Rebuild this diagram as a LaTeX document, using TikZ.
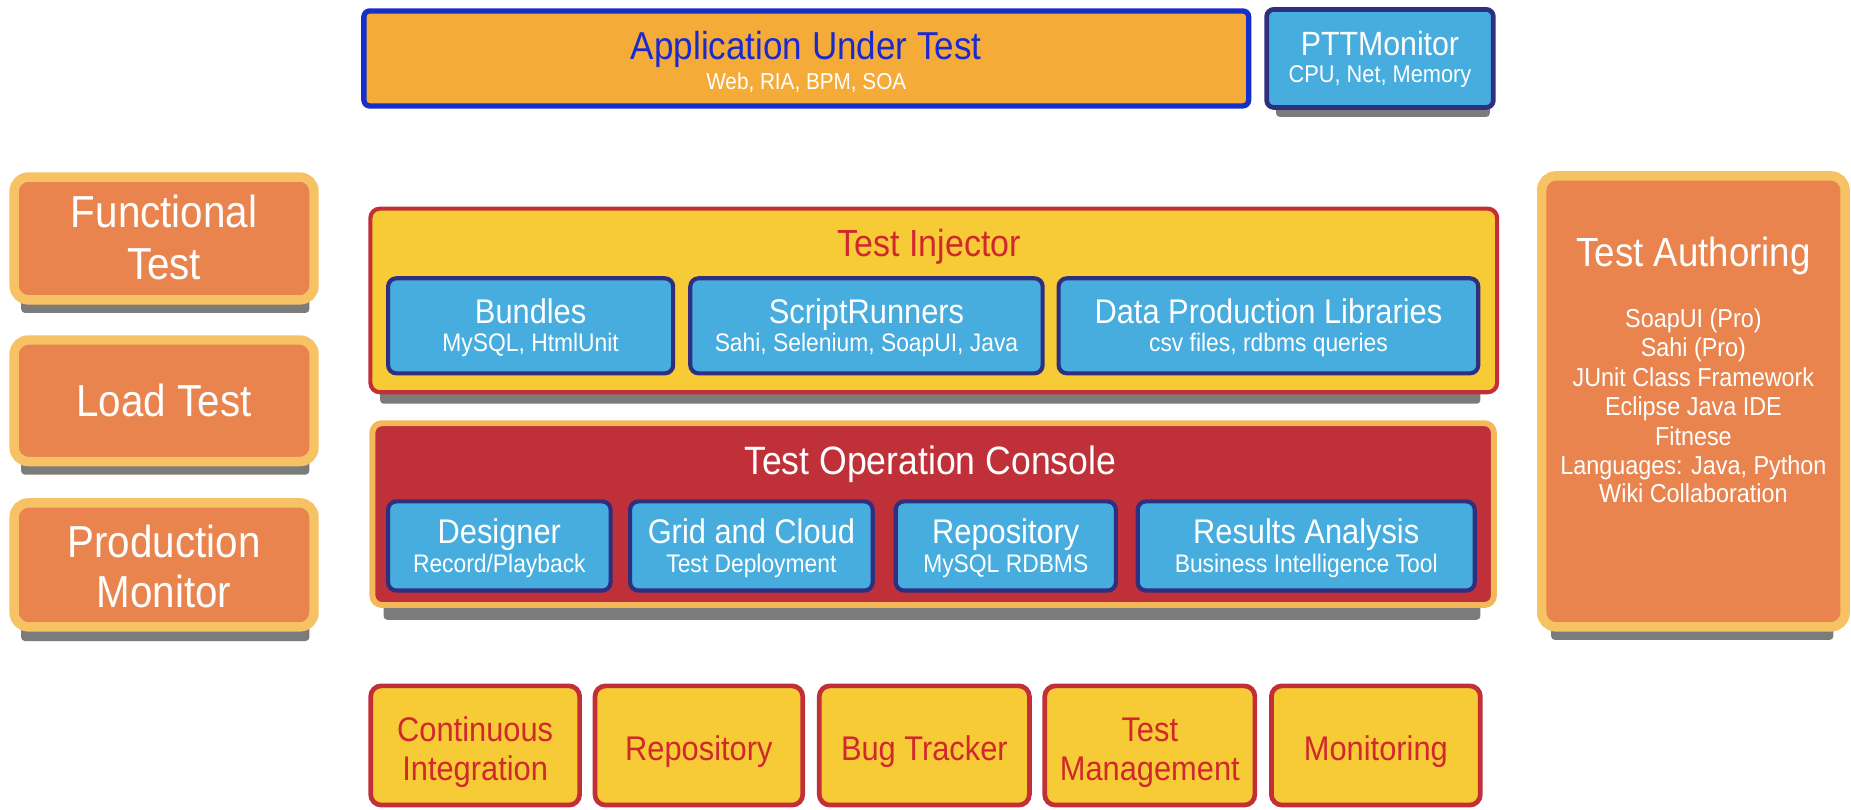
\documentclass[tikz,border=0pt]{standalone}
\usepackage{fontspec}
\setmainfont{Liberation Sans}[FakeStretch=0.9]
\definecolor{cApp}{HTML}{F5AB38}
\definecolor{cAppB}{HTML}{1530C8}
\definecolor{cBlue}{HTML}{46ADDE}
\definecolor{cNavy}{HTML}{2F2F80}
\definecolor{cOr}{HTML}{E9844F}
\definecolor{cOrB}{HTML}{F7C263}
\definecolor{cYel}{HTML}{F7CB36}
\definecolor{cRed}{HTML}{C22F37}
\definecolor{cCon}{HTML}{BF3038}
\definecolor{cConB}{HTML}{F3B85A}
\definecolor{cRedT}{HTML}{D0282C}
\definecolor{cBlueT}{HTML}{1A2ACF}
\definecolor{cShadow}{HTML}{7B7B7B}
\newcommand\fsz[1]{\fontsize{#1}{#1}\selectfont}
% style, name, x1, x2, y1, y2, line width
\newcommand\bx[7]{\node[#1, minimum width={#4-#3-#7}, minimum height={#6-#5-#7}, line width=#7pt] (#2) at ({(#3+#4)/2},{(#5+#6)/2}) {};}
\tikzset{
  every node/.style={inner sep=0pt, outer sep=0pt},
  appbox/.style={draw=cAppB, fill=cApp, rounded corners=5pt},
  pttbox/.style={draw=cNavy, fill=cBlue, rounded corners=6pt},
  sidebox/.style={draw=cOrB, fill=cOr, rounded corners=12pt},
  injbox/.style={draw=cRed, fill=cYel, rounded corners=8pt},
  conbox/.style={draw=cConB, fill=cCon, rounded corners=8pt},
  bluebox/.style={draw=cNavy, fill=cBlue, rounded corners=7pt},
  toolbox/.style={draw=cRed, fill=cYel, rounded corners=9pt},
  shadow/.style={fill=cShadow, rounded corners=3pt},
  wt/.style={text=white, anchor=base},
  rt/.style={text=cRedT, anchor=base},
  big/.style={font=\fsz{38}},
  ttl/.style={font=\fsz{33.5}},
  mid/.style={font=\fsz{29}},
  sml/.style={font=\fsz{21.5}},
}
\begin{document}
\begin{tikzpicture}[x=1pt, y=-1pt]
\useasboundingbox (0,0) rectangle (1568,686);
% shadows
\fill[shadow] (1081,85) rectangle (1262,99);
\fill[shadow] (18,250) rectangle (262,265);
\fill[shadow] (18,387) rectangle (262,402);
\fill[shadow] (18,527) rectangle (262,543);
\fill[shadow] (322,330) rectangle (1254,342);
\fill[shadow] (325,512) rectangle (1254,525);
\fill[shadow] (1314,528) rectangle (1553,542);
% top row
\bx{appbox}{app}{306}{1060}{7}{92}{4.5}
\bx{pttbox}{ptt}{1071}{1267}{6}{93}{4}
\node[anchor=base, text=cBlueT, font=\fsz{33}] (appT) at (683,50) {Application Under Test};
\node[wt, font=\fsz{19.5}] (appS) at (683,76) {Web, RIA, BPM, SOA};
\node[wt, font=\fsz{28.5}] (pttT) at (1169,47) {PTTMonitor};
\node[wt, font=\fsz{20.5}] (pttS) at (1169,70) {CPU, Net, Memory};
% left column
\bx{sidebox}{fun}{8}{270}{146}{258}{8}
\bx{sidebox}{load}{8}{270}{284}{395}{8}
\bx{sidebox}{prod}{8}{270}{422}{535}{8}
\node[wt, big] (funA) at (139,193) {Functional};
\node[wt, big] (funB) at (139,237) {Test};
\node[wt, big] (loadA) at (139,353) {Load Test};
\node[wt, big] (prodA) at (139,472) {Production};
\node[wt, big] (prodB) at (139,515) {Monitor};
% test injector
\bx{injbox}{inj}{312}{1270}{175}{334}{3.5}
\node[rt, font=\fsz{32}] (injT) at (787,217) {Test Injector};
\bx{bluebox}{bun}{327}{572}{234}{318}{3.5}
\bx{bluebox}{scr}{583}{885}{234}{318}{3.5}
\bx{bluebox}{dpl}{895}{1254}{234}{318}{3.5}
\node[wt, mid] (bunT) at (449.5,274) {Bundles};
\node[wt, sml] (bunS) at (449.5,298) {MySQL, HtmlUnit};
\node[wt, mid] (scrT) at (734,274) {ScriptRunners};
\node[wt, sml] (scrS) at (734,298) {Sahi, Selenium, SoapUI, Java};
\node[wt, mid] (dplT) at (1074.5,274) {Data Production Libraries};
\node[wt, sml] (dplS) at (1074.5,298) {csv files, rdbms queries};
% test operation console
\bx{conbox}{con}{313}{1268}{356}{515}{5}
\node[wt, ttl] (conT) at (788,402) {Test Operation Console};
\bx{bluebox}{des}{327}{519}{423}{502}{3.5}
\bx{bluebox}{grd}{532}{741}{423}{502}{3.5}
\bx{bluebox}{rep}{757}{947}{423}{502}{3.5}
\bx{bluebox}{res}{962}{1251}{423}{502}{3.5}
\node[wt, mid] (desT) at (423,460) {Designer};
\node[wt, sml] (desS) at (423,485) {Record/Playback};
\node[wt, mid] (grdT) at (636.5,460) {Grid and Cloud};
\node[wt, sml] (grdS) at (636.5,485) {Test Deployment};
\node[wt, mid] (repT) at (852,460) {Repository};
\node[wt, sml] (repS) at (852,485) {MySQL RDBMS};
\node[wt, mid] (resT) at (1106.5,460) {Results Analysis};
\node[wt, sml] (resS) at (1106.5,485) {Business Intelligence Tool};
% test authoring
\bx{sidebox}{auth}{1302}{1567}{145}{535}{8}
\node[wt, font=\fsz{34.5}] (authT) at (1434.5,226) {Test Authoring};
\node[wt, font=\fsz{22}] (auth1) at (1434.5,277) {SoapUI (Pro)};
\node[wt, font=\fsz{22}] (auth2) at (1434.5,302) {Sahi (Pro)};
\node[wt, font=\fsz{22}] (auth3) at (1434.5,327) {JUnit Class Framework};
\node[wt, font=\fsz{22}] (auth4) at (1434.5,352) {Eclipse Java IDE};
\node[wt, font=\fsz{22}] (auth5) at (1434.5,377) {Fitnese};
\node[wt, font=\fsz{22}] (auth6) at (1434.5,402) {Languages: Java, Python};
\node[wt, font=\fsz{22}] (auth7) at (1434.5,426) {Wiki Collaboration};
% bottom tools
\bx{toolbox}{ci}{312}{493}{579}{684}{4}
\bx{toolbox}{repo}{502}{682}{579}{684}{4}
\bx{toolbox}{bug}{692}{874}{579}{684}{4}
\bx{toolbox}{tm}{883}{1065}{579}{684}{4}
\bx{toolbox}{mon}{1075}{1256}{579}{684}{4}
\node[rt, mid] (ciA) at (402.5,628) {Continuous};
\node[rt, mid] (ciB) at (402.5,661) {Integration};
\node[rt, mid] (repoT) at (592,644) {Repository};
\node[rt, mid] (bugT) at (783,644) {Bug Tracker};
\node[rt, mid] (tmA) at (974,628) {Test};
\node[rt, mid] (tmB) at (974,661) {Management};
\node[rt, mid] (monT) at (1165.5,644) {Monitoring};
\end{tikzpicture}
\end{document}
